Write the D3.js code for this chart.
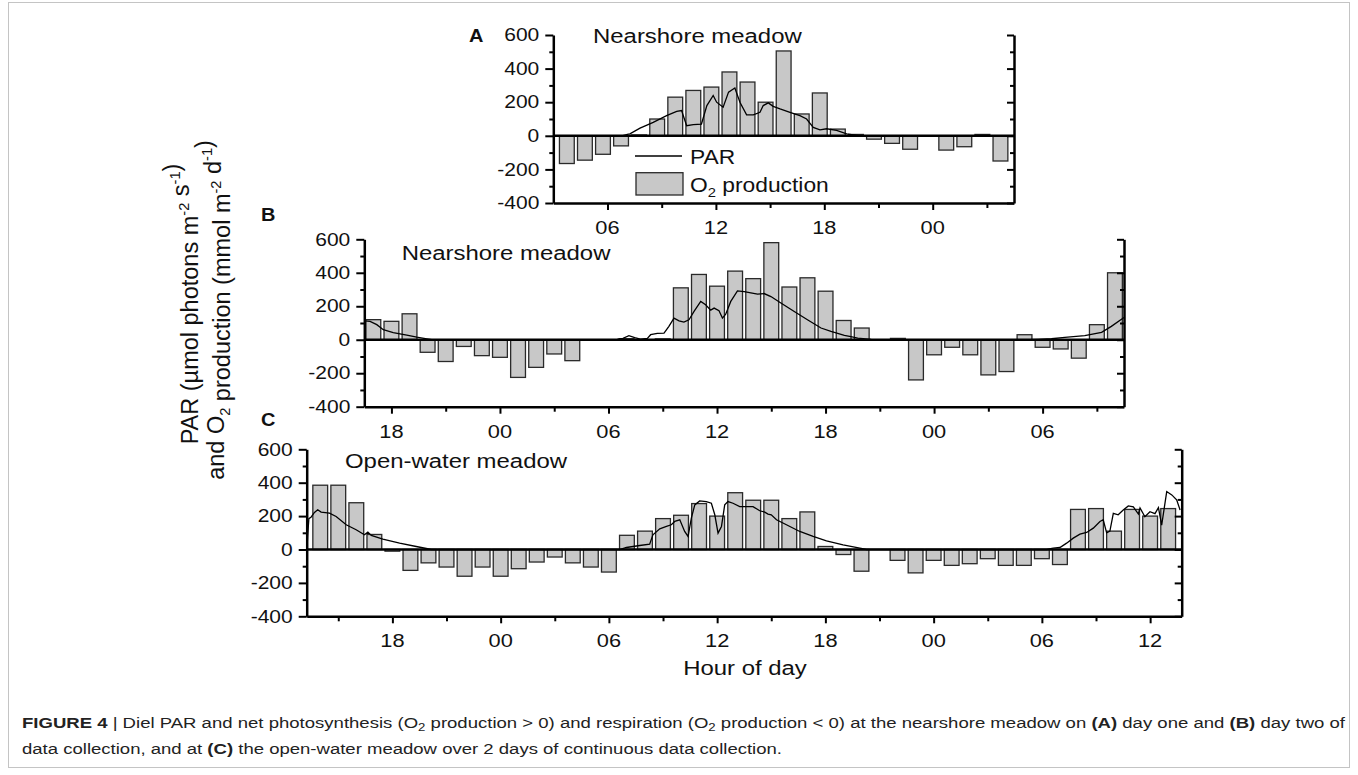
<!DOCTYPE html>
<html><head><meta charset="utf-8">
<script src="https://cdn.jsdelivr.net/npm/d3@7"></script>
<style>
body{margin:0;background:#fff}
svg{display:block}
text{font-family:"Liberation Sans",Arial,Helvetica,sans-serif;fill:#111}
</style>
</head><body>
<svg id="chart" width="1358" height="775"></svg>
<script>
// ---------------- DATA ----------------
// Panel A: nearshore meadow, day one (bar centres in hours since start of day 1)
const hoursA = [3.75,4.75,5.75,6.75,7.75,8.75,9.75,10.75,11.75,12.75,13.75,14.75,15.75,16.75,17.75,18.75,19.75,20.75,21.75,22.75,23.75,24.75,25.75,26.75,27.75];
const o2A = [-165,-145,-110,-60,5,100,230,270,290,380,320,200,505,130,255,40,8,-20,-45,-80,0,-85,-65,8,-150];
const parA = [[3,0],[6.8,0],[7.15,10],[7.24,12],[7.8,46],[8.53,80],[9.27,120],[9.83,145],[10.1,150],[10.38,60],[10.75,66],[11.2,70],[11.5,180],[11.85,240],[12.04,200],[12.4,170],[12.7,260],[13.05,285],[13.33,200],[13.7,125],[14.07,125],[14.44,140],[14.62,180],[14.9,196],[15.17,175],[15.55,160],[16.1,140],[16.65,120],[17.02,100],[17.39,50],[17.76,35],[18.13,42],[18.68,32],[19.24,12],[19.97,0],[28.5,0]];

// Panel B: nearshore meadow, day two
const hoursB = [17,18,19,20,21,22,23,24,25,26,27,28,29,30,31,32,33,34,35,36,37,38,39,40,41,42,43,44,45,46,47,48,49,50,51,52,53,54,55,56,57,58];
const o2B = [120,110,155,-75,-130,-40,-95,-105,-225,-165,-85,-125,0,0,6,0,5,310,390,320,410,365,580,315,370,290,115,70,0,8,-240,-90,-45,-90,-210,-190,30,-45,-55,-110,90,400];
const parB = [[16.5,113],[16.82,110],[17.19,90],[17.55,60],[18.1,42],[18.85,28],[19.4,15],[19.96,5],[20.23,0],[30.3,0],[30.48,2],[30.8,8],[31.13,24],[31.45,12],[31.77,4],[32.15,8],[32.33,30],[32.7,38],[33.07,40],[33.34,80],[33.62,129],[33.9,113],[34.17,105],[34.45,119],[34.73,169],[35.1,229],[35.37,209],[35.65,177],[35.84,189],[36.11,173],[36.3,129],[36.48,153],[36.76,229],[37.13,292],[37.5,288],[37.87,280],[38.24,272],[38.6,276],[38.98,258],[39.53,219],[40.27,169],[41.0,119],[41.75,70],[42.3,50],[43.04,26],[43.4,18],[43.78,10],[44.52,2],[44.9,0],[53.3,0],[53.75,2],[54.49,6],[55.23,14],[56.33,24],[57.26,44],[57.8,80],[58.5,133]];

// Panel C: open-water meadow, 2 days
const hoursC = [14,15,16,17,18,19,20,21,22,23,24,25,26,27,28,29,30,31,32,33,34,35,36,37,38,39,40,41,42,43,44,45,46,47,48,49,50,51,52,53,54,55,56,57,58,59,60,61];
const o2C = [385,385,280,90,-10,-125,-80,-105,-160,-105,-160,-115,-75,-45,-80,-105,-135,85,110,185,205,275,200,340,295,295,185,225,18,-30,-130,0,-65,-140,-65,-95,-85,-55,-95,-95,-55,-90,240,245,110,240,200,245];
const parC = [[13.25,-40],[13.3,80],[13.37,185],[13.5,195],[13.68,222],[13.86,238],[14.05,224],[14.51,218],[14.88,198],[15.44,148],[15.99,118],[16.45,88],[16.64,104],[16.83,84],[17.47,62],[18.4,38],[19.32,18],[19.88,6],[20.15,0],[30.6,0],[30.97,12],[31.71,24],[32.26,32],[32.44,88],[32.82,124],[33.19,138],[33.46,148],[33.65,168],[33.93,178],[34.2,108],[34.39,78],[34.57,188],[34.76,267],[35.03,291],[35.4,287],[35.68,277],[35.87,208],[36.05,98],[36.24,138],[36.42,267],[36.6,287],[36.88,277],[37.25,257],[37.62,257],[37.99,257],[38.36,232],[38.64,224],[38.82,212],[39.0,208],[39.29,178],[39.84,148],[40.58,108],[41.32,78],[42.06,52],[42.98,28],[43.91,8],[44.28,0],[54.26,0],[54.63,8],[55.0,12],[55.37,38],[55.74,68],[56.11,92],[56.48,102],[56.85,128],[57.22,168],[57.4,178],[57.59,100],[57.77,110],[57.96,217],[58.23,208],[58.51,236],[58.79,261],[59.07,255],[59.35,212],[59.44,249],[59.71,196],[59.99,226],[60.27,215],[60.46,251],[60.64,146],[60.92,347],[61.2,327],[61.47,297],[61.66,237]];

const yMajor = [-400,-200,0,200,400,600];
const yMinor = [-300,-100,100,300,500];
const xMajorA = [6,12,18,24], xMinorA = [9,15,21,27];
const xMajorB = [18,24,30,36,42,48,54], xMinorB = [21,27,33,39,45,51,57];
const xMajorC = [18,24,30,36,42,48,54,60], xMinorC = [15,21,27,33,39,45,51,57];
const titles = ["Nearshore meadow","Nearshore meadow","Open-water meadow"];
const letters = ["A","B","C"];

// ---------------- LAYOUT ----------------
const SX = 1.14; // horizontal stretch of the figure's lettering
const svg = d3.select("#chart");
svg.append("rect").attr("x",8.5).attr("y",2.5).attr("width",1341).attr("height",765)
  .attr("fill","none").attr("stroke","#c4c4c4").attr("stroke-width",1);

function stext(parent, x, y, anchor, size, weight, extra, sx){
  const g = parent.append("g").attr("transform",`translate(${x},${y}) scale(${sx||SX},1)${extra||""}`);
  return g.append("text").attr("text-anchor",anchor).attr("font-size",size).attr("font-weight",weight||"normal");
}

const layouts = [
  {hours:hoursA,o2:o2A,par:parA,domain:[3,28.5],x0:553.3,x1:1014,y0:35,y1:203,xMaj:xMajorA,xMin:xMinorA,
   letter:[469,42],title:[593,43.3]},
  {hours:hoursB,o2:o2B,par:parB,domain:[16.5,58.5],x0:364.3,x1:1124,y0:239.3,y1:406.7,xMaj:xMajorB,xMin:xMinorB,
   letter:[261,221],title:[401.7,260]},
  {hours:hoursC,o2:o2C,par:parC,domain:[13.25,61.75],x0:306.7,x1:1181.7,y0:449.3,y1:616.3,xMaj:xMajorC,xMin:xMinorC,
   letter:[261,426],title:[345,467.7]}
];

const fmtHour = h => d3.format("02d")(h % 24);

layouts.forEach((L, i) => {
  const x = d3.scaleLinear().domain(L.domain).range([L.x0, L.x1]);
  const y = d3.scaleLinear().domain([-400,600]).range([L.y1, L.y0]);
  const g = svg.append("g");
  const clipId = "clip"+i;
  svg.append("clipPath").attr("id",clipId).append("rect")
    .attr("x",L.x0-3).attr("y",L.y0-20).attr("width",L.x1-L.x0+3).attr("height",L.y1-L.y0+20);

  // bars
  const bw = 0.82;
  const bars = L.hours.map((h,k)=>({h, v:L.o2[k]})).filter(d=>d.v!==0);
  g.append("g").selectAll("rect").data(bars).join("rect")
    .attr("x", d => x(d.h - bw/2))
    .attr("width", d => x(d.h + bw/2) - x(d.h - bw/2))
    .attr("y", d => y(Math.max(0,d.v)))
    .attr("height", d => Math.abs(y(d.v) - y(0)))
    .attr("fill","#c8c8c8").attr("stroke","#2a2a2a").attr("stroke-width",1.3);

  // zero line
  g.append("line").attr("x1",L.x0).attr("x2",L.x1).attr("y1",y(0)).attr("y2",y(0))
    .attr("stroke","#000").attr("stroke-width",2.4);

  // PAR line
  g.append("path").datum(L.par).attr("clip-path",`url(#${clipId})`)
    .attr("d", d3.line().x(d=>x(d[0])).y(d=>y(d[1])))
    .attr("fill","none").attr("stroke","#000").attr("stroke-width",1.3);

  // axes
  const styleAx = sel => { sel.selectAll(".domain").attr("stroke","#000").attr("stroke-width",2.5);
                           sel.selectAll(".tick line").attr("stroke","#000").attr("stroke-width",2); };
  g.append("g").attr("transform",`translate(${L.x0},0)`)
    .call(d3.axisLeft(y).tickValues(yMajor).tickSize(8).tickSizeOuter(0).tickFormat("")).call(styleAx);
  g.append("g").attr("transform",`translate(${L.x0},0)`)
    .call(d3.axisLeft(y).tickValues(yMinor).tickSize(4).tickSizeOuter(0).tickFormat(""))
    .call(s=>s.select(".domain").remove()).call(styleAx);
  g.append("g").attr("transform",`translate(${L.x1},0)`)
    .call(d3.axisRight(y).tickValues(yMajor).tickSize(-7).tickSizeOuter(0).tickFormat("")).call(styleAx);
  g.append("g").attr("transform",`translate(${L.x1},0)`)
    .call(d3.axisRight(y).tickValues(yMinor).tickSize(-4).tickSizeOuter(0).tickFormat(""))
    .call(s=>s.select(".domain").remove()).call(styleAx);
  g.append("g").attr("transform",`translate(0,${L.y1})`)
    .call(d3.axisBottom(x).tickValues(L.xMaj).tickSize(7).tickSizeOuter(0).tickFormat("")).call(styleAx);
  g.append("g").attr("transform",`translate(0,${L.y1})`)
    .call(d3.axisBottom(x).tickValues(L.xMin).tickSize(5).tickSizeOuter(0).tickFormat(""))
    .call(s=>s.select(".domain").remove()).call(styleAx);

  // tick labels
  yMajor.forEach(v => stext(g, L.x0-14, y(v)+6.2, "end", 17.5, "normal", "", 1.2).text(v));
  L.xMaj.forEach(h => stext(g, x(h), L.y1+30.8, "middle", 18.5, "normal", "", 1.18).text(fmtHour(h)));

  // letter + title
  stext(g, L.letter[0], L.letter[1], "start", 17.5, "bold").text(letters[i]);
  stext(g, L.title[0], L.title[1], "start", 21).text(titles[i]);

  if (i === 0) {
    // legend
    g.append("line").attr("x1",635).attr("x2",682).attr("y1",156).attr("y2",156)
      .attr("stroke","#000").attr("stroke-width",1.3);
    stext(g, 690, 164, "start", 20).text("PAR");
    g.append("rect").attr("x",636).attr("y",172.7).attr("width",47).attr("height",22.3)
      .attr("fill","#c8c8c8").attr("stroke","#2a2a2a").attr("stroke-width",1.3);
    const t = stext(g, 690, 191.5, "start", 20);
    t.append("tspan").text("O");
    t.append("tspan").attr("font-size",13).attr("dy",5).text("2");
    t.append("tspan").attr("dy",-5).text(" production");
  }
});

// x-axis title
stext(svg, 745, 675, "middle", 21).text("Hour of day");

// y-axis title (two lines, rotated)
function supTspans(t, parts, size){
  parts.forEach(p => {
    if (p.sup) { t.append("tspan").attr("font-size",size*0.62).attr("dy",-size*0.38).text(p.sup);
                 t.append("tspan").attr("dy",size*0.38).text(""); }
    else if (p.sub) { t.append("tspan").attr("font-size",size*0.62).attr("dy",size*0.25).text(p.sub);
                 t.append("tspan").attr("dy",-size*0.25).text(""); }
    else t.append("tspan").text(p.t);
  });
}
const YF = 23.5;
const yl1 = stext(svg, 198, 304, "middle", YF, "normal", " rotate(-90)", 1.0);
supTspans(yl1, [{t:"PAR (µmol photons m"},{sup:"-2"},{t:" s"},{sup:"-1"},{t:")"}], YF);
const yl2 = stext(svg, 224, 310, "middle", YF, "normal", " rotate(-90)", 1.0);
supTspans(yl2, [{t:"and O"},{sub:"2"},{t:" production (mmol m"},{sup:"-2"},{t:" d"},{sup:"-1"},{t:")"}], YF);

// caption
const capFont = '"Liberation Sans Narrow","Arial Narrow","Liberation Sans",Arial,sans-serif';
const c1 = svg.append("text").attr("x",22).attr("y",728).attr("font-size",15.5)
  .attr("font-family",capFont).attr("textLength",1323).attr("lengthAdjust","spacingAndGlyphs").style("fill","#222");
c1.append("tspan").attr("font-weight","bold").text("FIGURE 4");
c1.append("tspan").text(" | Diel PAR and net photosynthesis (O");
c1.append("tspan").attr("font-size",11).attr("dy",3).text("2");
c1.append("tspan").attr("dy",-3).text(" production > 0) and respiration (O");
c1.append("tspan").attr("font-size",11).attr("dy",3).text("2");
c1.append("tspan").attr("dy",-3).text(" production < 0) at the nearshore meadow on ");
c1.append("tspan").attr("font-weight","bold").text("(A)");
c1.append("tspan").text(" day one and ");
c1.append("tspan").attr("font-weight","bold").text("(B)");
c1.append("tspan").text(" day two of");
const c2 = svg.append("text").attr("x",22).attr("y",754).attr("font-size",15.5)
  .attr("font-family",capFont).attr("textLength",760).attr("lengthAdjust","spacingAndGlyphs").style("fill","#222");
c2.append("tspan").text("data collection, and at ");
c2.append("tspan").attr("font-weight","bold").text("(C)");
c2.append("tspan").text(" the open-water meadow over 2 days of continuous data collection.");
</script>
</body></html>
